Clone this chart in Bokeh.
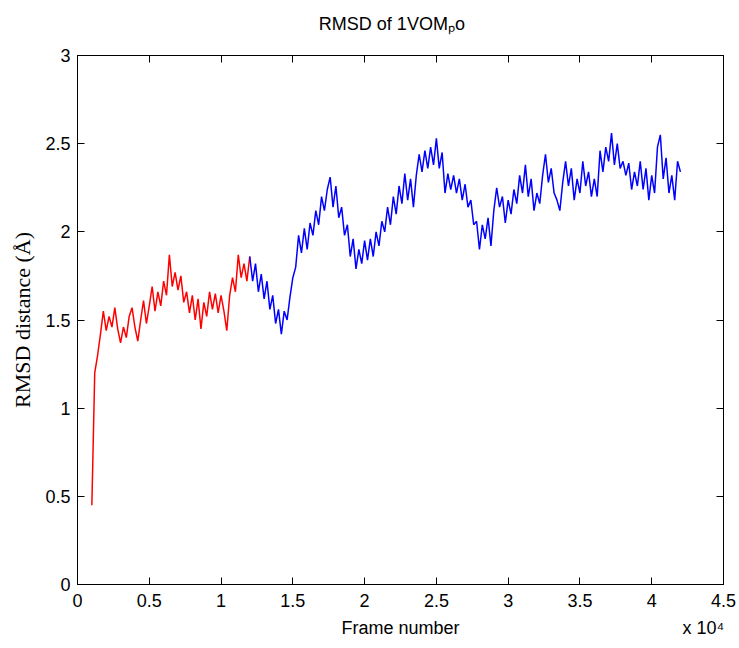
from bokeh.plotting import figure
from bokeh.models import Range1d, FixedTicker, LinearAxis
from bokeh.embed import file_html
from bokeh.resources import INLINE

# ---- data ----
red_frames = list(range(1000, 12001, 200))
red_rmsd = [
    0.45, 1.20, 1.30, 1.42, 1.55, 1.44, 1.52, 1.46, 1.57, 1.45,
    1.37, 1.46, 1.40, 1.52, 1.57, 1.46, 1.38, 1.50, 1.61, 1.48,
    1.58, 1.69, 1.55, 1.66, 1.58, 1.72, 1.64, 1.87, 1.69, 1.77,
    1.67, 1.75, 1.60, 1.66, 1.54, 1.64, 1.50, 1.62, 1.45, 1.60,
    1.52, 1.66, 1.56, 1.65, 1.54, 1.64, 1.55, 1.44, 1.64, 1.74,
    1.66, 1.87, 1.74, 1.82, 1.72, 1.86,
]
blue_frames = list(range(12000, 42001, 200))
blue_rmsd = [
    1.86, 1.72, 1.82, 1.66, 1.76, 1.62, 1.72, 1.56, 1.64, 1.48,
    1.56, 1.42, 1.55, 1.50, 1.63, 1.74, 1.80, 1.98, 1.88, 2.02,
    1.90, 2.05, 1.98, 2.12, 2.04, 2.20, 2.12, 2.24, 2.31, 2.14,
    2.26, 2.08, 2.14, 1.98, 2.04, 1.86, 1.96, 1.79, 1.90, 1.82,
    1.95, 1.84, 1.96, 1.86, 2.00, 1.92, 2.06, 2.00, 2.14, 2.04,
    2.20, 2.10, 2.26, 2.16, 2.33, 2.18, 2.30, 2.14, 2.32, 2.44,
    2.34, 2.46, 2.36, 2.48, 2.38, 2.53, 2.36, 2.45, 2.22, 2.33,
    2.24, 2.32, 2.22, 2.30, 2.18, 2.27, 2.14, 2.18, 2.04, 2.06,
    1.90, 2.04, 1.96, 2.08, 1.92, 2.12, 2.25, 2.14, 2.20, 2.05,
    2.18, 2.10, 2.24, 2.16, 2.32, 2.22, 2.38, 2.20, 2.30, 2.12,
    2.22, 2.16, 2.32, 2.44, 2.28, 2.36, 2.22, 2.18, 2.12, 2.28,
    2.40, 2.26, 2.36, 2.18, 2.30, 2.22, 2.40, 2.26, 2.34, 2.20,
    2.30, 2.20, 2.46, 2.34, 2.48, 2.40, 2.56, 2.38, 2.50, 2.36,
    2.40, 2.32, 2.39, 2.24, 2.34, 2.26, 2.40, 2.24, 2.36, 2.18,
    2.32, 2.22, 2.48, 2.55, 2.30, 2.42, 2.22, 2.32, 2.18, 2.40,
    2.34,
]
x_ticks = [0, 5000, 10000, 15000, 20000, 25000, 30000, 35000, 40000, 45000]
x_tick_labels = ["0", "0.5", "1", "1.5", "2", "2.5", "3", "3.5", "4", "4.5"]
y_ticks = [0, 0.5, 1, 1.5, 2, 2.5, 3]
y_tick_labels = ["0", "0.5", "1", "1.5", "2", "2.5", "3"]
title_text = "RMSD of 1VOM\u209ao"
x_label_text = "Frame number"
x_multiplier_text = "x 10\u2074"
y_label_text = "RMSD distance (\u00c5)"

SANS = "Liberation Sans"
SERIF = "Liberation Serif"

p = figure(width=739, height=648, output_backend="svg", toolbar_location=None,
           x_range=Range1d(0, 45000), y_range=Range1d(0, 3),
           x_axis_location=None, y_axis_location=None,
           min_border_left=77, min_border_right=16, min_border_top=55, min_border_bottom=64)
p.background_fill_color = "white"
p.border_fill_color = "white"
p.outline_line_color = "black"
p.outline_line_width = 1
p.xgrid.visible = False
p.ygrid.visible = False
p.title.visible = False


def style_axis(ax, ticks, labels, show_labels, standoff):
    ax.ticker = FixedTicker(ticks=ticks)
    ax.axis_line_color = "black"
    ax.major_tick_line_color = "black"
    ax.major_tick_in = 7
    ax.major_tick_out = 0
    ax.minor_tick_line_color = None
    ax.major_label_text_font = SANS
    ax.major_label_text_color = "black"
    if show_labels:
        ax.major_label_overrides = {t: l for t, l in zip(ticks, labels)}
        ax.major_label_text_font_size = "18px"
        ax.major_label_standoff = standoff
    else:
        ax.major_label_overrides = {t: "" for t in ticks}
        ax.major_label_text_font_size = "1px"
        ax.major_label_standoff = 0


def text_row(positions, texts, standoff):
    ax = LinearAxis(ticker=FixedTicker(ticks=positions),
                    major_label_overrides={t: s for t, s in zip(positions, texts)})
    ax.axis_line_color = None
    ax.major_tick_line_color = None
    ax.minor_tick_line_color = None
    ax.major_tick_in = 0
    ax.major_tick_out = 0
    ax.major_label_text_font = SANS
    ax.major_label_text_font_size = "18px"
    ax.major_label_text_color = "black"
    ax.major_label_standoff = standoff
    return ax


xb = LinearAxis()
style_axis(xb, x_ticks, x_tick_labels, True, 9)
p.add_layout(xb, "below")

# row under the x axis: axis title and the x 10^4 multiplier
p.add_layout(text_row([22500, 43600], [x_label_text, x_multiplier_text], 8), "below")

yl = LinearAxis()
style_axis(yl, y_ticks, y_tick_labels, True, 7)
yl.axis_label = y_label_text
yl.axis_label_text_font = SERIF
yl.axis_label_text_font_size = "22px"
yl.axis_label_text_font_style = "normal"
yl.axis_label_text_color = "black"
yl.axis_label_standoff = 7
p.add_layout(yl, "left")

xt = LinearAxis()
style_axis(xt, x_ticks, x_tick_labels, False, 0)
p.add_layout(xt, "above")

# chart title row above the box
p.add_layout(text_row([21900], [title_text], 22), "above")

yr = LinearAxis()
style_axis(yr, y_ticks, y_tick_labels, False, 0)
p.add_layout(yr, "right")

p.line(red_frames, red_rmsd, line_color="#ff0000", line_width=1.5)
p.line(blue_frames, blue_rmsd, line_color="#0000ff", line_width=1.5)

open("out.html", "w").write(file_html(p, INLINE))
